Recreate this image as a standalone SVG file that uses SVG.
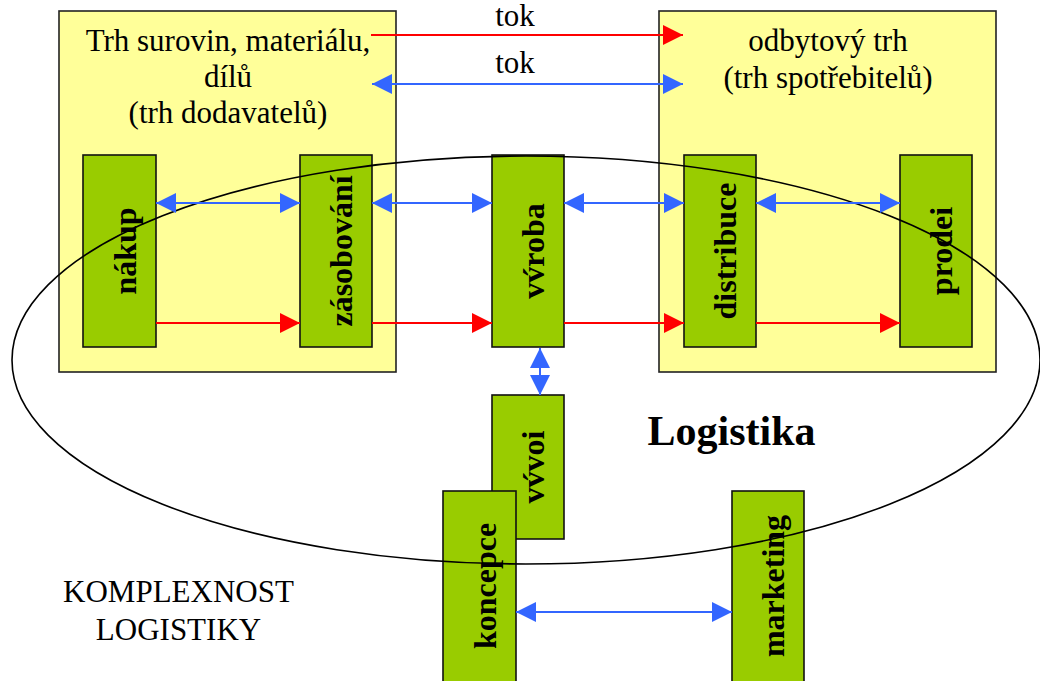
<svg xmlns="http://www.w3.org/2000/svg" width="1040" height="681" viewBox="0 0 1040 681">
<style>
.market{fill:#FFFF99;stroke:#222;stroke-width:1.6}
.func{fill:#99CC00;stroke:#111;stroke-width:1.6}
.t{font-family:'Liberation Serif','DejaVu Serif',serif;font-size:31px;fill:#000;text-anchor:middle}
.vt{font-family:'Liberation Serif','DejaVu Serif',serif;font-size:32px;font-weight:bold;fill:#000;text-anchor:middle}
.lg{font-family:'Liberation Serif','DejaVu Serif',serif;font-size:42px;font-weight:bold;fill:#000;text-anchor:middle}
.red{stroke:#FF0000;stroke-width:2;fill:none;marker-end:url(#ar)}
.blue{stroke:#3366FF;stroke-width:2;fill:none;marker-start:url(#ab);marker-end:url(#ab)}
</style>
<defs>
<marker id="ar" viewBox="0 0 20 20" refX="20" refY="10" markerWidth="20" markerHeight="20" markerUnits="userSpaceOnUse" orient="auto-start-reverse"><path d="M0,0 L20,10 L0,20 z" fill="#FF0000"/></marker>
<marker id="ab" viewBox="0 0 20 20" refX="20" refY="10" markerWidth="20" markerHeight="20" markerUnits="userSpaceOnUse" orient="auto-start-reverse"><path d="M0,0 L20,10 L0,20 z" fill="#3366FF"/></marker>
</defs>
<rect width="1040" height="681" fill="#fff"/>
<g id="trh-dodavatelu">
<rect class="market" x="59" y="11" width="337" height="361"/>
<text class="t" x="228" y="51">Trh surovin, materiálu,</text>
<text class="t" x="228" y="87">dílů</text>
<text class="t" x="228" y="123">(trh dodavatelů)</text>
</g>
<g id="odbytovy-trh">
<rect class="market" x="659" y="11" width="337" height="361"/>
<text class="t" x="828" y="51">odbytový trh</text>
<text class="t" x="828" y="88">(trh spotřebitelů)</text>
</g>
<g id="vyvoj">
<rect class="func" x="492" y="395" width="72" height="144"/>
<text class="vt" transform="translate(544,467) rotate(-90)">vv́voi</text>
</g>
<g id="nakup">
<rect class="func" x="83" y="155" width="73" height="192"/>
<text class="vt" transform="translate(135.5,251) rotate(-90)">nákup</text>
</g>
<g id="zasobovani">
<rect class="func" x="300" y="155" width="72" height="192"/>
<text class="vt" transform="translate(352,251) rotate(-90)">zásobování</text>
</g>
<g id="vyroba">
<rect class="func" x="492" y="155" width="72" height="192"/>
<text class="vt" transform="translate(544,251) rotate(-90)">vv́roba</text>
</g>
<g id="distribuce">
<rect class="func" x="684" y="155" width="72" height="192"/>
<text class="vt" transform="translate(736,251) rotate(-90)">distribuce</text>
</g>
<g id="prodej">
<rect class="func" x="900" y="155" width="72" height="192"/>
<text class="vt" transform="translate(952,251) rotate(-90)">prodei</text>
</g>
<g id="koncepce">
<rect class="func" x="443" y="491" width="73" height="192"/>
<text class="vt" transform="translate(495.5,586) rotate(-90)">koncepce</text>
</g>
<g id="marketing">
<rect class="func" x="732" y="491" width="72" height="192"/>
<text class="vt" transform="translate(784,586) rotate(-90)">marketing</text>
</g>
<g id="logistika">
<ellipse cx="526" cy="360" rx="514" ry="204" fill="none" stroke="#000" stroke-width="1.6"/>
<text class="lg" x="731.5" y="445">Logistika</text>
</g>
<g id="komplexnost">
<text class="t" x="178.5" y="602">KOMPLEXNOST</text>
<text class="t" x="178.5" y="640">LOGISTIKY</text>
</g>
<g id="connectors">
<line class="red" x1="371" y1="35" x2="683" y2="35"/>
<line class="blue" x1="372" y1="84" x2="683" y2="84"/>
<text class="t" x="515" y="26">tok</text>
<text class="t" x="515" y="73">tok</text>
<line class="blue" x1="156" y1="203" x2="300" y2="203"/>
<line class="blue" x1="372" y1="203" x2="492" y2="203"/>
<line class="blue" x1="564" y1="203" x2="684" y2="203"/>
<line class="blue" x1="756" y1="203" x2="900" y2="203"/>
<line class="red" x1="156" y1="323" x2="300" y2="323"/>
<line class="red" x1="372" y1="323" x2="492" y2="323"/>
<line class="red" x1="564" y1="323" x2="684" y2="323"/>
<line class="red" x1="756" y1="323" x2="900" y2="323"/>
<line class="blue" x1="540" y1="348" x2="540" y2="395"/>
<line class="blue" x1="516" y1="612" x2="732" y2="612"/>
</g>
</svg>
